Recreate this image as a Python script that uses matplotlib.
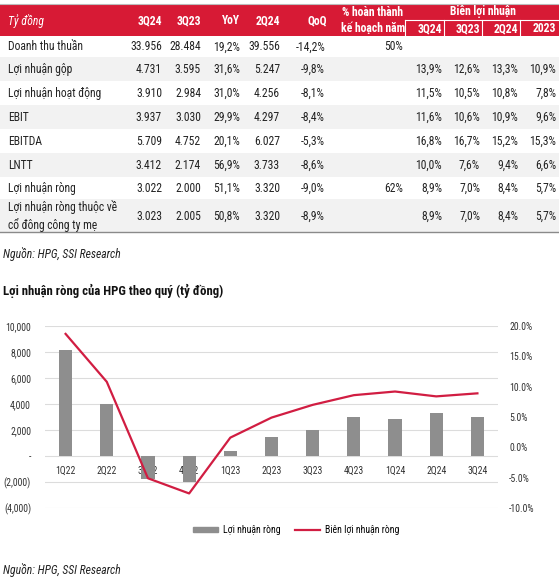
import numpy as np
import matplotlib
matplotlib.use("Agg")
import matplotlib.pyplot as plt
from matplotlib import font_manager
from matplotlib.patches import Rectangle, Patch
from matplotlib.lines import Line2D
from matplotlib.ticker import FuncFormatter, FixedLocator

# pick a narrow font if there is one
names = {f.name for f in font_manager.fontManager.ttflist}
for cand in ["Liberation Sans Narrow", "Roboto Condensed", "Arial Narrow", "Roboto"]:
    if cand in names:
        FONT = cand
        break
else:
    FONT = "DejaVu Sans"
plt.rcParams['font.family'] = [FONT, 'DejaVu Sans']

# ---- table data ----
row_names = ["Doanh thu thuần", "Lợi nhuận gộp", "Lợi nhuận hoạt động", "EBIT", "EBITDA",
             "LNTT", "Lợi nhuận ròng", "Lợi nhuận ròng thuộc về\ncổ đông công ty mẹ"]
val_3q24 = ["33.956", "4.731", "3.910", "3.937", "5.709", "3.412", "3.022", "3.023"]
val_3q23 = ["28.484", "3.595", "2.984", "3.030", "4.752", "2.174", "2.000", "2.005"]
val_yoy = ["19,2%", "31,6%", "31,0%", "29,9%", "20,1%", "56,9%", "51,1%", "50,8%"]
val_2q24 = ["39.556", "5.247", "4.256", "4.297", "6.027", "3.733", "3.320", "3.320"]
val_qoq = ["-14,2%", "-9,8%", "-8,1%", "-8,4%", "-5,3%", "-8,6%", "-9,0%", "-8,9%"]
val_plan = ["50%", "", "", "", "", "", "62%", ""]
mg_3q24 = ["", "13,9%", "11,5%", "11,6%", "16,8%", "10,0%", "8,9%", "8,9%"]
mg_3q23 = ["", "12,6%", "10,5%", "10,6%", "16,7%", "7,6%", "7,0%", "7,0%"]
mg_2q24 = ["", "13,3%", "10,8%", "10,9%", "15,2%", "9,4%", "8,4%", "8,4%"]
mg_2023 = ["", "10,9%", "7,8%", "9,6%", "15,3%", "6,6%", "5,7%", "5,7%"]
top_headers = ["3Q24", "3Q23", "YoY", "2Q24"]
margin_headers = ["3Q24", "3Q23", "2Q24", "2023"]

# ---- chart data ----
quarters = ["1Q22", "2Q22", "3Q22", "4Q22", "1Q23", "2Q23", "3Q23", "4Q23", "1Q24", "2Q24", "3Q24"]
net_profit = [8150, 4010, -1770, -1990, 390, 1450, 2000, 2990, 2870, 3320, 3022]
net_margin = [18.7, 10.8, -5.1, -7.6, 1.6, 4.9, 7.0, 8.6, 9.2, 8.4, 8.9]

RED = "#d71a35"
LINE_RED = "#d11d42"
BAR_GREY = "#8e8e8e"
TXT = "#222222"

W, H = 559, 579
fig = plt.figure(figsize=(W / 100, H / 100), dpi=100)

# full-figure axes in pixel units for the table
tax = fig.add_axes([0, 0, 1, 1])
tax.set_xlim(0, W)
tax.set_ylim(H, 0)
tax.axis("off")

fs = 8.4
# header band
tax.add_patch(Rectangle((0, 5), W, 31, color=RED, lw=0))
tax.plot([0, W], [4, 4], color="#bbbbbb", lw=0.8)
tax.text(8, 21, "Tỷ đồng", color="white", style="italic", fontsize=fs, va="center")
for x, h in zip([162, 201, 240, 280], top_headers):
    tax.text(x, 21, h, color="white", weight="bold", fontsize=fs, va="center", ha="right")
tax.text(317, 21, "QoQ", color="white", weight="bold", fontsize=fs, va="center", ha="center")
tax.text(373, 13, "% hoàn thành", color="white", weight="bold", fontsize=fs, va="center", ha="center")
tax.text(373, 29, "kế hoạch năm", color="white", weight="bold", fontsize=fs, va="center", ha="center")
tax.text(483, 12, "Biên lợi nhuận", color="white", weight="bold", fontsize=fs, va="center", ha="center")
tax.plot([405, W], [19.5, 19.5], color="white", lw=0.8)
for xs in [405, 444, 482, 520]:
    tax.plot([xs, xs], [20, 36], color="white", lw=0.8)
for x, h in zip([442, 480, 518, 556], margin_headers):
    tax.text(x, 28.5, h, color="white", weight="bold", fontsize=fs, va="center", ha="right")

row_tops = [36, 57, 81, 105, 129, 153, 177, 199]
row_bots = row_tops[1:] + [232]
cols = [(162, val_3q24), (201, val_3q23), (240, val_yoy), (280, val_2q24), (325, val_qoq),
        (403, val_plan), (442, mg_3q24), (480, mg_3q23), (518, mg_2q24), (556, mg_2023)]
for i, name in enumerate(row_names):
    top, bot = row_tops[i], row_bots[i]
    if i % 2 == 1:
        tax.add_patch(Rectangle((0, top), W, bot - top, color="#f2f2f2", lw=0))
    yc = (top + bot) / 2 + 0.5
    tax.text(8, yc, name, color=TXT, fontsize=fs, va="center", ha="left", linespacing=1.35)
    for x, vals in cols:
        tax.text(x, yc, vals[i], color=TXT, fontsize=fs, va="center", ha="right")
tax.plot([0, W], [232, 232], color="#8a8a8a", lw=1.0)

tax.text(3, 254, "Nguồn: HPG, SSI Research", style="italic", fontsize=8.4, color=TXT, va="center")
tax.text(3, 291, "Lợi nhuận ròng của HPG theo quý (tỷ đồng)", weight="bold", fontsize=9.2,
         color="#111111", va="center")
tax.text(3, 570, "Nguồn: HPG, SSI Research", style="italic", fontsize=8.4, color=TXT, va="center")

# ---- chart ----
left, right, top, bottom = 45, 498, 326, 508
ax = fig.add_axes([left / W, 1 - bottom / H, (right - left) / W, (bottom - top) / H])
x = np.arange(len(quarters))
ax.bar(x, net_profit, width=0.32, color=BAR_GREY, zorder=2, label="Lợi nhuận ròng")
ax.set_xlim(-0.5, len(quarters) - 0.5)
ax.set_ylim(-4000, 10000)
ax.yaxis.set_major_locator(FixedLocator(np.arange(-4000, 10001, 2000)))


def left_fmt(v, pos):
    if v == 0:
        return "-"
    if v < 0:
        return "({:,.0f})".format(-v)
    return "{:,.0f}".format(v)


ax.yaxis.set_major_formatter(FuncFormatter(left_fmt))
ax.grid(axis="y", color="#dcdcdc", lw=0.8, zorder=0)
ax.set_axisbelow(True)
for s in ["top", "right", "left"]:
    ax.spines[s].set_visible(False)
ax.spines["bottom"].set_position(("data", 0))
ax.spines["bottom"].set_visible(False)
ax.set_xticks(x)
ax.set_xticklabels(quarters)
ax.tick_params(axis="x", length=0, pad=7, labelsize=7, labelcolor="#333333")
ax.tick_params(axis="y", length=0, pad=10, labelsize=7, labelcolor="#333333")

ax2 = ax.twinx()
ax2.plot(x, net_margin, color=LINE_RED, lw=1.6, label="Biên lợi nhuận ròng")
ax2.set_ylim(-10, 20)
ax2.yaxis.set_major_locator(FixedLocator(np.arange(-10, 20.1, 5)))
ax2.yaxis.set_major_formatter(FuncFormatter(lambda v, p: "{:.1f}%".format(v)))
ax2.tick_params(axis="y", length=0, pad=8, labelsize=7, labelcolor="#333333")
for s in ax2.spines.values():
    s.set_visible(False)

handles = [Patch(color=BAR_GREY), Line2D([], [], color=LINE_RED, lw=1.6)]
fig.legend(handles, ["Lợi nhuận ròng", "Biên lợi nhuận ròng"], loc="center",
           bbox_to_anchor=(296 / W, 1 - 530 / H), ncol=2, frameon=False, fontsize=7,
           handlelength=2.6, handleheight=0.5, columnspacing=1.5, handletextpad=0.5)

fig.savefig("out.png", dpi=100)
